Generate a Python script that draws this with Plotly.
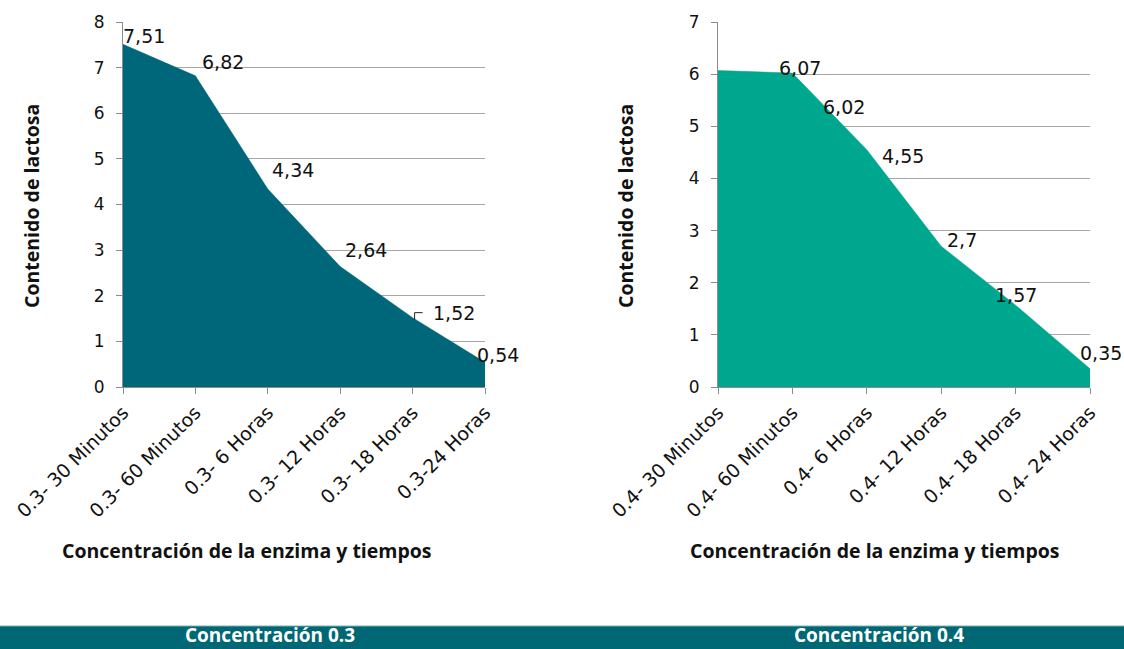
import plotly.graph_objects as go

# Lactose content over time for two enzyme concentrations
categorias_03 = ["0.3- 30 Minutos", "0.3- 60 Minutos", "0.3- 6 Horas",
                 "0.3- 12 Horas", "0.3- 18 Horas", "0.3-24 Horas"]
lactosa_03 = [7.51, 6.82, 4.34, 2.64, 1.52, 0.54]

categorias_04 = ["0.4- 30 Minutos", "0.4- 60 Minutos", "0.4- 6 Horas",
                 "0.4- 12 Horas", "0.4- 18 Horas", "0.4- 24 Horas"]
lactosa_04 = [6.07, 6.02, 4.55, 2.7, 1.57, 0.35]

titulo_y = "Contenido de lactosa"
titulo_x = "Concentración de la enzima y tiempos"
paneles = ["Concentración 0.3", "Concentración 0.4"]

# label offsets (pixels) relative to each data point
desplaz_03 = [(21, 8), (28, 14), (25, 19), (26, 17), (41, 5), (13, 7)]
desplaz_04 = [(82, 2), (52, -34), (36, -6), (21, 6), (0, 10), (11, 16)]

W, H = 1124, 649
COLOR_03 = "#00677A"
COLOR_04 = "#00A78F"
BANDA = "#006774"
GRID = "#A6A6A6"
EJE = "#8C8C8C"
XTICK_FONT = dict(family="DejaVu Sans", size=19, color="#111111")
YTICK_FONT = dict(family="DejaVu Sans", size=17, color="#111111")
LABEL_FONT = dict(family="DejaVu Sans", size=19, color="#111111")
TITLE_FONT = dict(family="Open Sans", size=19.5, color="#111111", weight="bold")


def px_x(p):
    return p / W


def px_y(p):
    return (H - p) / H


fig = go.Figure()

fig.add_trace(go.Scatter(
    x=list(range(len(lactosa_03))), y=lactosa_03, mode="lines",
    fill="tozeroy", fillcolor=COLOR_03, line=dict(color=COLOR_03, width=0.5),
    xaxis="x", yaxis="y", hoverinfo="skip", showlegend=False))

fig.add_trace(go.Scatter(
    x=list(range(len(lactosa_04))), y=lactosa_04, mode="lines",
    fill="tozeroy", fillcolor=COLOR_04, line=dict(color=COLOR_04, width=0.5),
    xaxis="x2", yaxis="y2", hoverinfo="skip", showlegend=False))

y_dom = [px_y(387), px_y(22)]


def eje_x(dom, cats, anchor):
    return dict(domain=dom, anchor=anchor, range=[0, len(cats) - 1],
                tickmode="array", tickvals=list(range(len(cats))), ticktext=cats,
                tickangle=-45, ticks="outside", ticklen=6, tickcolor=EJE,
                showline=True, linecolor=EJE, linewidth=1, showgrid=False,
                zeroline=False, tickfont=XTICK_FONT, automargin=False,
                fixedrange=True)


def eje_y(top, anchor):
    return dict(domain=y_dom, anchor=anchor, range=[0, top], dtick=1,
                ticks="outside", ticklen=6, tickcolor=EJE,
                showline=True, linecolor=EJE, linewidth=1,
                showgrid=True, gridcolor=GRID, gridwidth=1, zeroline=False,
                tickfont=YTICK_FONT, ticklabelstandoff=8, automargin=False,
                fixedrange=True)


fig.update_layout(
    width=W, height=H,
    margin=dict(l=0, r=0, t=0, b=0, autoexpand=False),
    paper_bgcolor="white", plot_bgcolor="white",
    xaxis=eje_x([px_x(123), px_x(485)], categorias_03, "y"),
    yaxis=eje_y(8, "x"),
    xaxis2=eje_x([px_x(718), px_x(1090)], categorias_04, "y2"),
    yaxis2=eje_y(7, "x2"),
)

anotaciones = []


def fmt(v):
    return f"{v:g}".replace(".", ",")


for xr, yr, vals, offs in (("x", "y", lactosa_03, desplaz_03),
                           ("x2", "y2", lactosa_04, desplaz_04)):
    for i, (v, (dx, dy)) in enumerate(zip(vals, offs)):
        anotaciones.append(dict(
            x=i, y=v, xref=xr, yref=yr, text=fmt(v), showarrow=False,
            xanchor="center", yanchor="middle", xshift=dx, yshift=dy,
            font=LABEL_FONT))

# axis titles
for cx in (247, 875):
    anotaciones.append(dict(
        x=px_x(cx), y=px_y(550), xref="paper", yref="paper", text=titulo_x,
        showarrow=False, xanchor="center", yanchor="middle", font=TITLE_FONT))
for cx in (31, 625):
    anotaciones.append(dict(
        x=px_x(cx), y=px_y(206), xref="paper", yref="paper", text=titulo_y,
        showarrow=False, xanchor="center", yanchor="middle", textangle=-90,
        font=TITLE_FONT))

# panel captions on the bottom band
for cx, txt in zip((270, 879), paneles):
    anotaciones.append(dict(
        x=px_x(cx), y=0, xref="paper", yref="paper", text=txt,
        showarrow=False, xanchor="center", yanchor="bottom", borderpad=0,
        font=dict(family="Open Sans", size=19, color="white", weight="bold")))

formas = [
    dict(type="rect", xref="paper", yref="paper", x0=0, x1=1,
         y0=0, y1=px_y(626), fillcolor=BANDA, line=dict(width=0), layer="below"),
    dict(type="line", xref="paper", yref="paper", x0=0, x1=1,
         y0=px_y(626), y1=px_y(626), line=dict(color="#7FAFB6", width=1)),
    # small leader line next to the 1,52 label
    dict(type="path", xref="x", yref="y", xsizemode="pixel", ysizemode="pixel",
         xanchor=4, yanchor=lactosa_03[4], path="M 2,-2 L 2,5 L 10,5",
         line=dict(color="#222222", width=1)),
]

fig.update_layout(annotations=anotaciones, shapes=formas)

fig.write_html("out.html")
